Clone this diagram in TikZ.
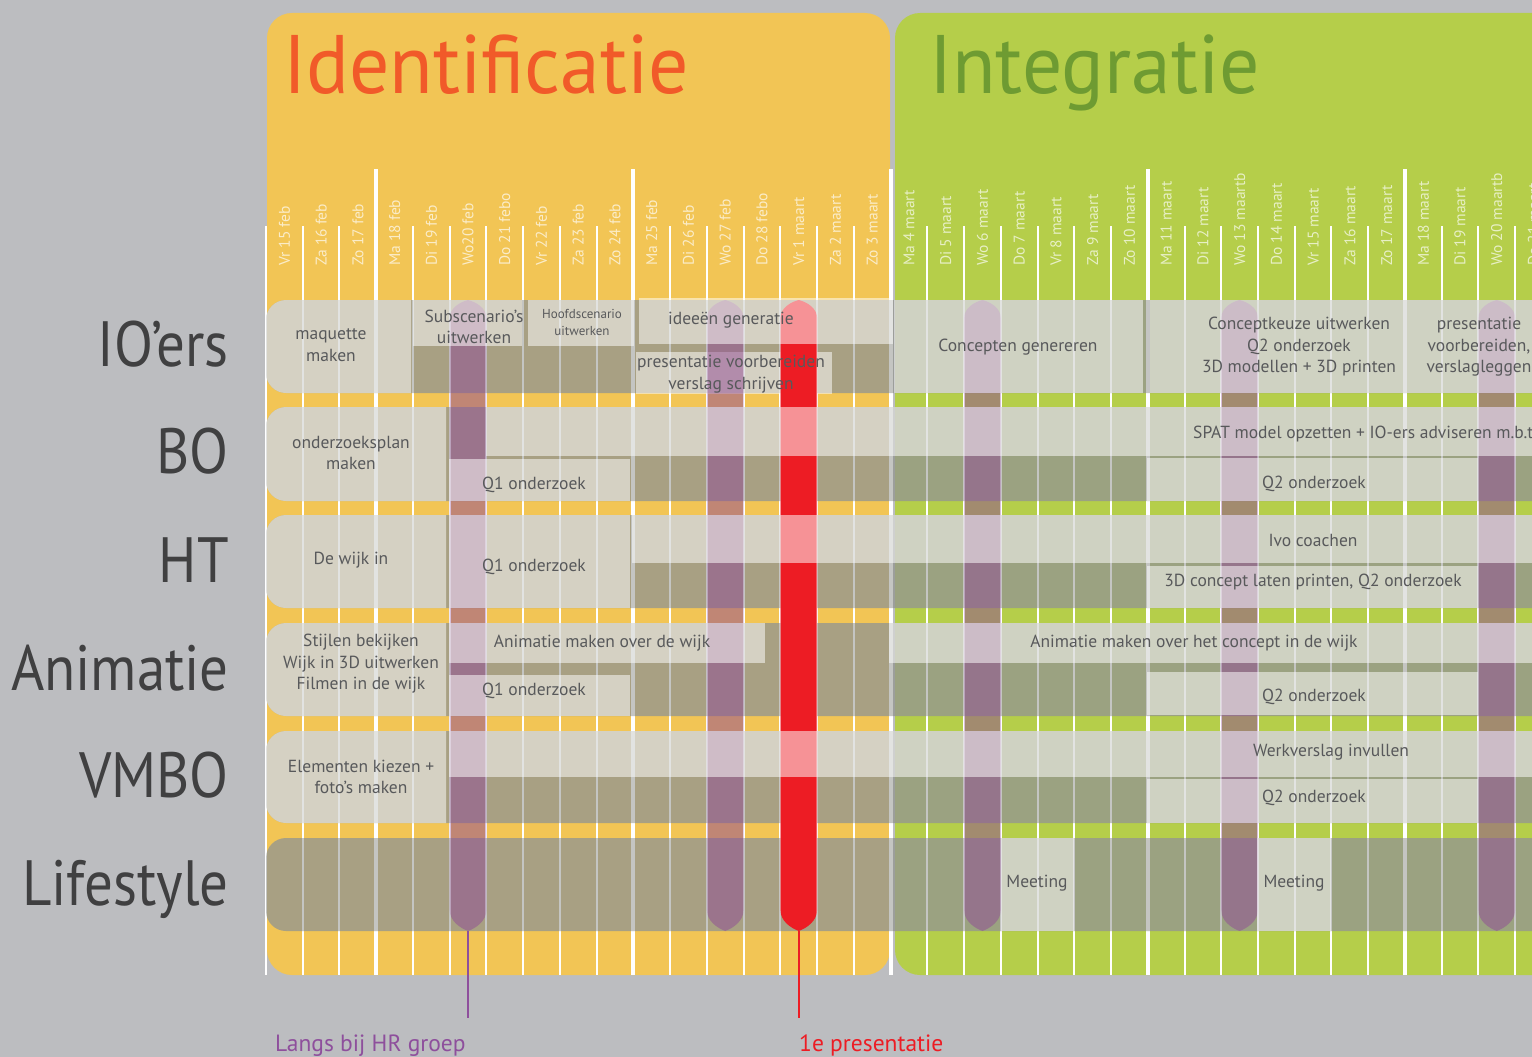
\documentclass[tikz,border=0pt]{standalone}
\usepackage{fontspec}
\setmainfont{PT Sans}
\definecolor{bggrey}{RGB}{188,189,192}
\definecolor{panelorange}{RGB}{242,197,85}
\definecolor{panelgreen}{RGB}{181,206,74}
\definecolor{titleorange}{RGB}{241,90,41}
\definecolor{titlegreen}{RGB}{110,155,50}
\definecolor{labelgrey}{RGB}{64,64,65}
\definecolor{rowgrey}{RGB}{88,89,91}
\definecolor{bandgrey}{RGB}{148,150,145}
\definecolor{markpurple}{RGB}{144,73,149}
\definecolor{stempurple}{RGB}{142,79,156}
\definecolor{markred}{RGB}{237,28,36}
\begin{document}
\begin{tikzpicture}[x=1pt,y=-1pt,
  band/.style={fill=bandgrey,fill opacity=0.78},
  lightbox/.style={fill=white,fill opacity=0.52},
  purplemark/.style={fill=markpurple,fill opacity=0.5},
  redmark/.style={fill=markred},
  dayline/.style={draw=white,line width=2},
  weekline/.style={draw=white,line width=4},
  datelab/.style={rotate=90,anchor=west,inner sep=0,text=white,text opacity=0.68,
    font=\fontsize{15.5}{16}\selectfont},
  rowtext/.style={text=rowgrey,align=center,inner sep=0,font=\fontsize{17.5}{21.5}\selectfont},
  smalltext/.style={text=rowgrey,align=center,inner sep=0,font=\fontsize{13}{17}\selectfont},
  rowlabel/.style={anchor=base east,inner sep=0,text=labelgrey,
    font=\fontsize{64}{64}\selectfont\addfontfeatures{FakeStretch=0.89}},
  title/.style={anchor=base west,inner sep=0,
    font=\fontsize{83}{83}\selectfont\addfontfeatures{FakeStretch=0.96}},
  notelabel/.style={anchor=base west,inner sep=0,font=\fontsize{23.5}{24}\selectfont}]

\useasboundingbox (0,0) rectangle (1532,1057);
\clip (0,0) rectangle (1532,1057);
\fill[bggrey] (0,0) rectangle (1532,1057);

% the two phase panels
\fill[panelorange,rounded corners=25] (267,13) rectangle (890,975);
\fill[panelgreen,rounded corners=25] (895,13) rectangle (1600,975);

% day and week grid
\def\colw{36.74}
\foreach \i in {0,1,2,4,5,6,7,8,9,11,12,13,14,15,16,18,19,20,21,22,23,25,26,27,28,29,30,32,33,34,35}
  \path[dayline] (266+\i*\colw,226) -- (266+\i*\colw,975);
\foreach \i in {3,10,17,24,31}
  \path[weekline] (266+\i*\colw,169) -- (266+\i*\colw,975);

% phase titles
\node[title,text=titleorange] (tid) at (283,94) {Identificatie};
\node[title,text=titlegreen] (tint) at (929,94) {Integratie};

% day labels
\foreach \i/\t in {0/Vr 15 feb,1/Za 16 feb,2/Zo 17 feb,3/Ma 18 feb,4/Di 19 feb,
  5/Wo20 feb,6/Do 21 febo,7/Vr 22 feb,8/Za 23 feb,9/Zo 24 feb,10/Ma 25 feb,
  11/Di 26 feb,12/Wo 27 feb,13/Do 28 febo,14/Vr 1 maart,15/Za 2 maart,16/Zo 3 maart,
  17/Ma 4 maart,18/Di 5 maart,19/Wo 6 maart,20/Do 7 maart,21/Vr  8 maart,
  22/Za 9 maart,23/Zo 10 maart,24/Ma 11 maart,25/Di 12 maart,26/Wo 13 maartb,
  27/Do 14 maart,28/Vr 15 maart,29/Za 16 maart,30/Zo 17 maart,31/Ma 18 maart,
  32/Di 19 maart,33/Wo 20 maartb,34/Do 21 maart}
  \node[datelab] (d\i) at (266+\i*\colw+0.5*\colw,266) {\t};

% row bands
\foreach \t/\b in {300/393,407/501,515/608,623/716,731/823,838/931}
  \fill[band,rounded corners=20] (266,\t) rectangle (1600,\b);

% box that lies under the milestone bars
\fill[lightbox] (636,352) rectangle (832,394);

% milestone bars
\newcommand{\milestonebar}[3]{%
  \pgfmathsetmacro\mkc{(#2+#3)/2}%
  \fill[#1] (#2,318) .. controls (#2,308) and (\mkc-8,302) .. (\mkc,300)
    .. controls (\mkc+8,302) and (#3,308) .. (#3,318) -- (#3,910)
    .. controls (#3,921) and (\mkc+8,928) .. (\mkc,931)
    .. controls (\mkc-8,928) and (#2,921) .. (#2,910) -- cycle;}
\milestonebar{purplemark}{449.7}{486.4}
\milestonebar{purplemark}{706.9}{743.6}
\milestonebar{redmark}{780.4}{817.1}
\milestonebar{purplemark}{964.1}{1000.8}
\milestonebar{purplemark}{1221.2}{1257.9}
\milestonebar{purplemark}{1478.4}{1515.1}

% left task boxes, rounded on the left only
\foreach \t/\b/\r in {300/393/411,407/501/446,515/608/446,623/716/446,731/823/446}{
  \begin{scope}
    \clip (0,\t) rectangle (\r,\b);
    \fill[lightbox,rounded corners=20] (266,\t) rectangle (\r+40,\b);
  \end{scope}}

% task boxes
\fill[lightbox] (413,300) rectangle (522,346);
\fill[lightbox] (528,300) rectangle (634,346);
\fill[lightbox] (639,298) rectangle (893,344);
\fill[lightbox] (894,300) rectangle (1143,393);
\fill[lightbox] (1150,300) rectangle (1600,393);
\fill[lightbox] (486,407) rectangle (1600,456);
\fill[lightbox] (449,459) rectangle (630,501);
\fill[lightbox] (1147,458) rectangle (1478,501);
\fill[lightbox] (449,515) rectangle (630,608);
\fill[lightbox] (632,515) rectangle (1600,563);
\fill[lightbox] (1147,566) rectangle (1478,608);
\fill[lightbox] (449,623) rectangle (765,663);
\fill[lightbox] (449,675) rectangle (630,716);
\fill[lightbox] (889,623) rectangle (1600,663);
\fill[lightbox] (1147,672) rectangle (1478,715);
\fill[lightbox] (449,731) rectangle (1600,777);
\fill[lightbox] (1147,779) rectangle (1478,823);
\fill[lightbox] (1001,838) rectangle (1074,931);
\fill[lightbox] (1257,838) rectangle (1331,931);

% grid seen through the rows
\foreach \i in {0,1,2,4,5,6,7,8,9,11,12,13,14,15,16,18,19,20,21,22,23,25,26,27,28,29,30,32,33,34,35}
  \path[dayline,draw opacity=0.3] (266+\i*\colw,298) -- (266+\i*\colw,931);
\foreach \i in {3,10,17,24,31}
  \path[weekline,draw opacity=0.3] (266+\i*\colw,298) -- (266+\i*\colw,931);

% team labels
\node[rowlabel] (io) at (229,366) {IO’ers};
\node[rowlabel] (bo) at (229,473) {BO};
\node[rowlabel] (ht) at (229,582) {HT};
\node[rowlabel] (an) at (229,690) {Animatie};
\node[rowlabel] (vm) at (229,797) {VMBO};
\node[rowlabel] (ls) at (229,905) {Lifestyle};

% IO'ers
\node[rowtext] (io1) at (331,345) {maquette\\maken};
\node[rowtext] (io2) at (474,327) {Subscenario’s\\uitwerken};
\node[smalltext] (io3) at (582,322) {Hoofdscenario\\uitwerken};
\node[rowtext] (io4) at (731,320) {ideeën generatie};
\node[rowtext] (io5) at (731,374) {presentatie voorbereiden\\verslag schrijven};
\node[rowtext] (io6) at (1018,347) {Concepten genereren};
\node[rowtext] (io7) at (1299,347) {Conceptkeuze uitwerken\\Q2 onderzoek\\3D modellen + 3D printen};
\node[rowtext] (io8) at (1479,347) {presentatie\\voorbereiden,\\verslagleggen};
% BO
\node[rowtext] (bo1) at (351,453) {onderzoeksplan\\maken};
\node[rowtext,anchor=west] (bo2) at (1193,434) {SPAT model opzetten + IO-ers adviseren m.b.t.};
\node[rowtext] (bo3) at (534,485) {Q1 onderzoek};
\node[rowtext] (bo4) at (1314,484) {Q2 onderzoek};
% HT
\node[rowtext] (ht1) at (351,560) {De wijk in};
\node[rowtext] (ht2) at (534,567) {Q1 onderzoek};
\node[rowtext] (ht3) at (1313,540) {Ivo coachen};
\node[rowtext] (ht4) at (1313,582) {3D concept laten printen, Q2 onderzoek};
% Animatie
\node[rowtext] (an1) at (361,664) {Stijlen bekijken\\Wijk in 3D uitwerken\\Filmen in de wijk};
\node[rowtext] (an2) at (602,643) {Animatie maken over de wijk};
\node[rowtext] (an3) at (534,691) {Q1 onderzoek};
\node[rowtext] (an4) at (1194,643) {Animatie maken over het concept in de wijk};
\node[rowtext] (an5) at (1314,697) {Q2 onderzoek};
% VMBO
\node[rowtext] (vm1) at (361,777) {Elementen kiezen +\\foto’s maken};
\node[rowtext] (vm2) at (1331,752) {Werkverslag invullen};
\node[rowtext] (vm3) at (1314,798) {Q2 onderzoek};
% Lifestyle
\node[rowtext] (ls1) at (1037,883) {Meeting};
\node[rowtext] (ls2) at (1294,883) {Meeting};

% milestone notes
\coordinate (hrbar) at (468,931);
\coordinate (hrend) at (468,1018);
\coordinate (presbar) at (798.7,931);
\coordinate (presend) at (798.7,1018);
\draw[stempurple,line width=2] (hrbar) -- (hrend);
\draw[markred,line width=2] (presbar) -- (presend);
\node[notelabel,text=stempurple] (hrnote) at (275,1051) {Langs bij HR groep};
\node[notelabel,text=markred] (presnote) at (799,1051) {1e presentatie};
\end{tikzpicture}
\end{document}
